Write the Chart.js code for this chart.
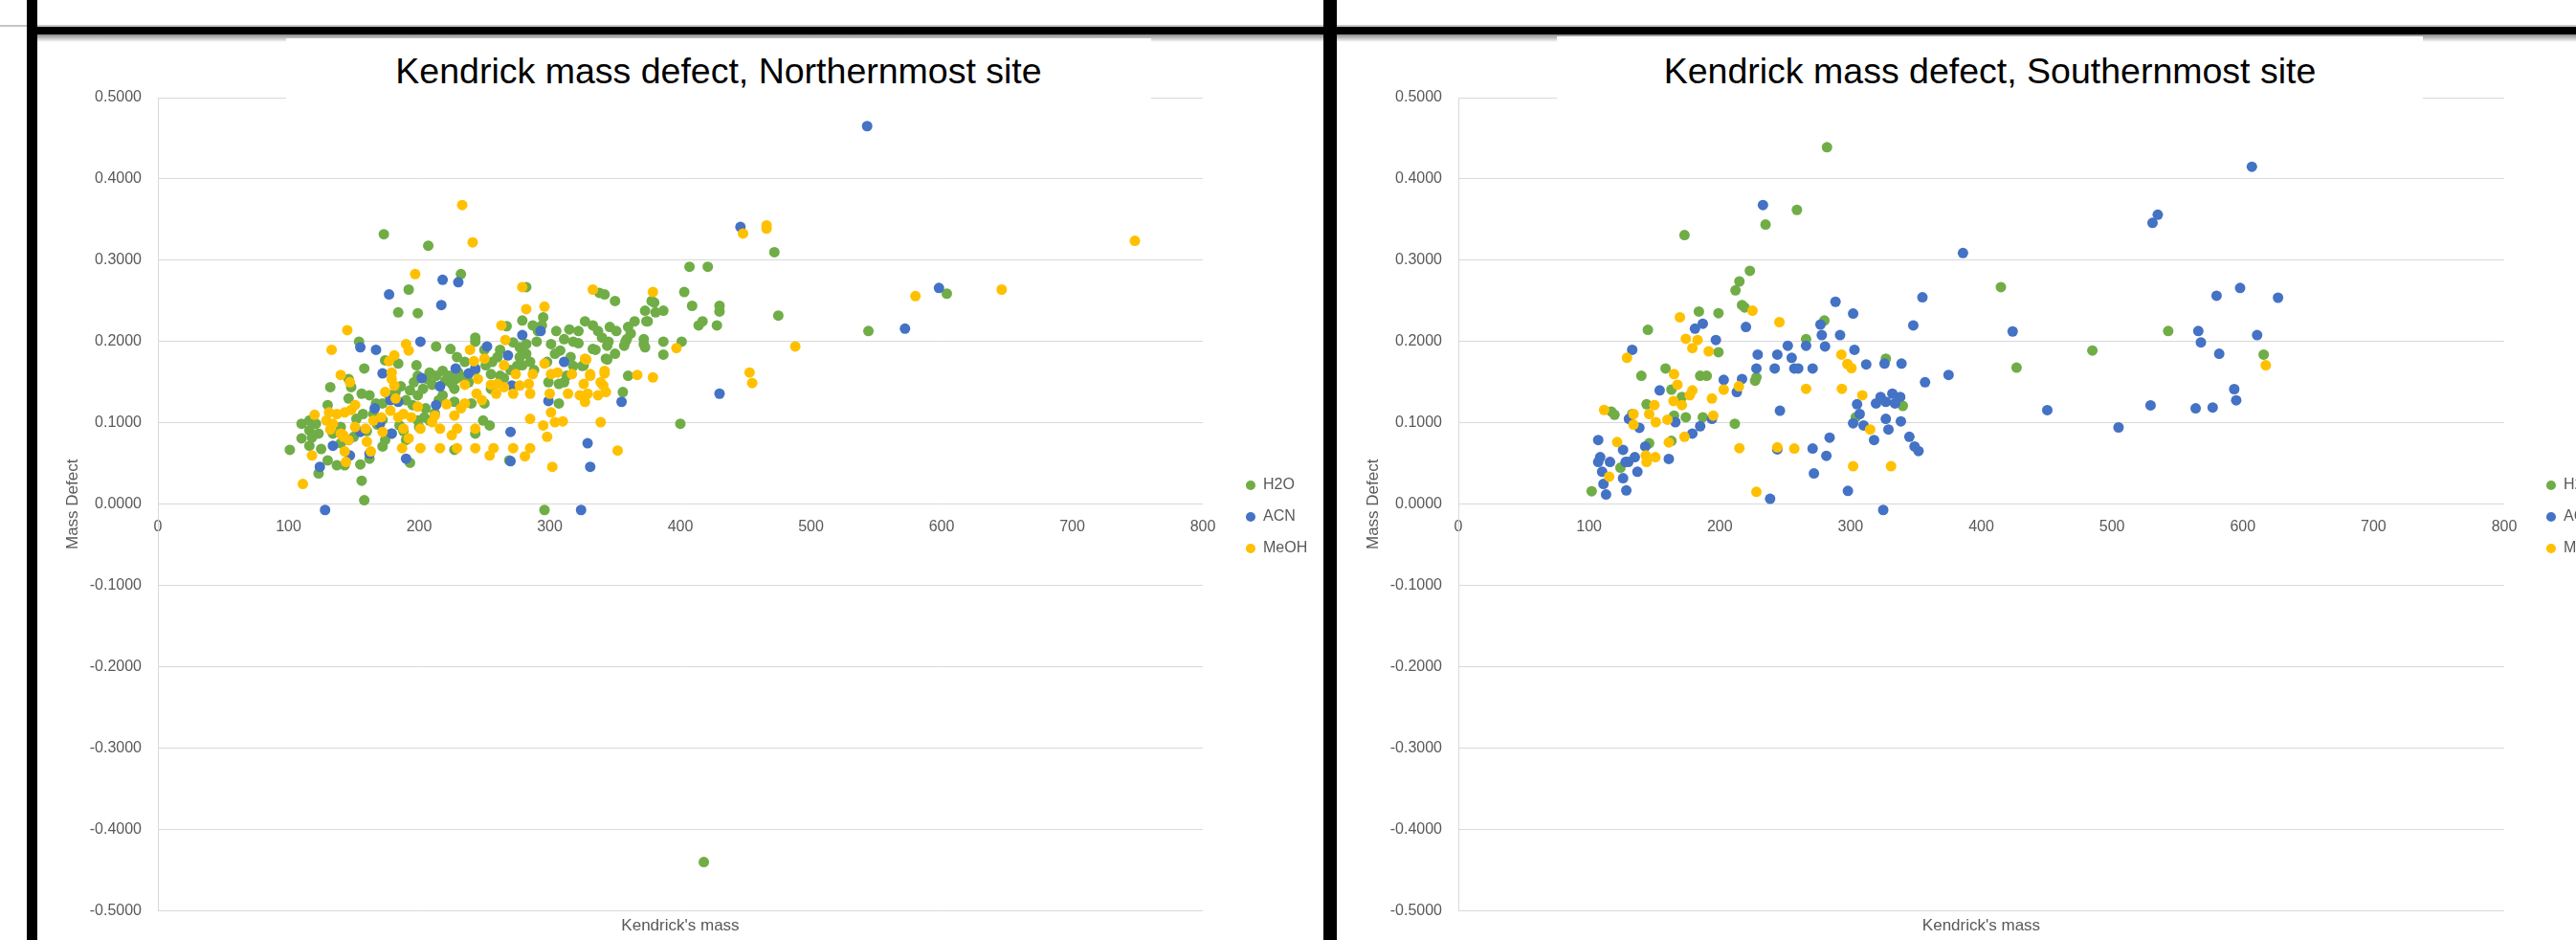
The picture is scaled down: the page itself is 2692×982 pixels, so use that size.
<!DOCTYPE html>
<html lang="en">
<head>
<meta charset="UTF-8">
<title>Kendrick mass defect</title>
<script src="https://cdn.jsdelivr.net/npm/chart.js"></script>
<style>
  body { margin: 0; width: 2692px; height: 982px; overflow: hidden; background: #fff; position: relative; font-family: 'Liberation Sans', Arial, sans-serif; }
  .abs { position: absolute; }
  canvas { position: absolute; top: 36px; }
  #north { left: 40px; }
  #south { left: 1397px; }
  .topline { left: 0; top: 26px; width: 2692px; height: 2px; background: #c6c6c6; }
  .band { left: 28px; top: 28px; width: 2664px; height: 8px; background: #000; }
  .shadow { top: 36px; height: 8px; background: linear-gradient(#8a8a8a, #fff); }
  .bar { top: 0; height: 982px; background: #000; }
  .title { height: 63px; background: #fff; color: #000; font-size: 37.5px; text-align: center; line-height: 68px; white-space: nowrap; }
</style>
</head>
<body>
<canvas id="north" width="1342" height="946"></canvas>
<canvas id="south" width="1342" height="946"></canvas>

<div class="abs topline"></div>
<div class="abs shadow" style="left:39px;width:1344px"></div>
<div class="abs shadow" style="left:1397px;width:1295px"></div>
<div class="abs title" style="left:299px;top:40px;width:904px">Kendrick mass defect, Northernmost site</div>
<div class="abs title" style="left:1627px;top:38px;width:905px;height:65px;line-height:72px">Kendrick mass defect, Southernmost site</div>
<div class="abs band"></div>
<div class="abs bar" style="left:28px;width:11px"></div>
<div class="abs bar" style="left:1383px;width:14px"></div>

<script>
    const seriesNames = ['H2O', 'ACN', 'MeOH'];
    const seriesColors = ['#70AD47', '#4472C4', '#FFC000'];
    const massTicks = { min: 0, max: 800, step: 100 };
    const defectTicks = { min: -0.5, max: 0.5, step: 0.1 };

    // Northernmost site: [Kendrick's mass, mass defect]
    const northH2O = [
        [173,0.332],[207,0.318],[232,0.283],[192,0.264],[184,0.236],[199,0.235],[282,0.267],
        [338,0.26],[342,0.258],[350,0.25],[378,0.25],[373,0.238],[381,0.236],[387,0.238],[374,0.225],
        [407,0.292],[421,0.292],[403,0.261],[409,0.244],[430,0.244],[430,0.237],[417,0.225],[414,0.22],[428,0.22],
        [360,0.218],[346,0.218],[351,0.213],[327,0.225],[333,0.22],[337,0.213],[315,0.215],[322,0.213],
        [295,0.23],[294,0.22],[279,0.226],[287,0.22],[291,0.213],[267,0.219],
        [345,0.2],[358,0.2],[372,0.203],[387,0.2],[401,0.2],[344,0.195],[357,0.195],[372,0.197],[373,0.193],[387,0.184],
        [343,0.179],[360,0.158],[356,0.138],[400,0.099],[333,0.191],[326,0.171],
        [311,0.203],[318,0.2],[308,0.189],[316,0.181],[301,0.197],[304,0.185],[298,0.175],
        [243,0.205],[243,0.2],[224,0.191],[213,0.194],[229,0.181],[235,0.175],
        [272,0.199],[277,0.193],[282,0.197],[282,0.185],[277,0.181],[279,0.171],
        [260,0.181],[255,0.16],[262,0.158],[251,0.171],[243,0.165],
        [208,0.162],[213,0.158],[218,0.164],[223,0.158],[228,0.154],[230,0.162],[206,0.154],
        [199,0.158],[196,0.15],[193,0.14],[199,0.134],[174,0.177],[184,0.173],[198,0.171],
        [218,0.134],[227,0.142],[227,0.126],[240,0.124],[250,0.124],
        [299,0.15],[307,0.148],[311,0.15],[307,0.124],
        [249,0.103],[254,0.097],[227,0.067],[243,0.087],[269,0.054],[296,-0.007],
        [158,0.167],[154,0.2],[132,0.144],[130,0.122],[146,0.154],[148,0.144],[146,0.13],
        [156,0.136],[162,0.134],[167,0.124],[157,0.111],[165,0.111],[172,0.124],[177,0.134],[182,0.138],
        [110,0.099],[116,0.103],[121,0.099],[116,0.091],[123,0.087],[110,0.081],[116,0.072],[101,0.067],
        [130,0.054],[137,0.048],[143,0.048],[123,0.038],[155,0.049],[162,0.056],
        [172,0.071],[174,0.079],[179,0.087],[190,0.079],[156,0.029],[158,0.005],[193,0.051],
        [199,0.103],[204,0.107],[208,0.103],[134,0.087],[140,0.095],
        [220,0.152],[225,0.148],[233,0.156],[238,0.15],[210,0.147],[203,0.142],[215,0.128],[190,0.128],
        [186,0.145],[195,0.122],[205,0.118],[212,0.112],[200,0.095],[168,0.098],[172,0.104],[185,0.097],
        [160,0.09],[150,0.083],[152,0.105],[140,0.075],[125,0.068],[118,0.082],[188,0.09],
        [255,0.142],[265,0.155],[270,0.165],[285,0.175],[290,0.2],[288,0.165],[275,0.17],[262,0.19],[250,0.19],[256,0.175],
        [322,0.198],[340,0.205],[350,0.185],[318,0.17],[313,0.158],[362,0.21],[365,0.225],[305,0.213],
        [380,0.248],[375,0.225],[359,0.203],[335,0.19],[344,0.178],[325,0.17],
        [475,0.232],[472,0.31],[544,0.213],[604,0.259],[418,-0.44]
    ];
    const northACN = [
        [177,0.258],[218,0.276],[230,0.273],[217,0.245],[155,0.193],[167,0.19],[201,0.2],[172,0.161],
        [202,0.155],[216,0.145],[228,0.167],[238,0.161],[243,0.167],[252,0.194],[268,0.183],[279,0.208],
        [293,0.213],[311,0.175],[271,0.146],[299,0.127],[355,0.126],[430,0.136],[213,0.122],[178,0.128],
        [184,0.126],[166,0.118],[170,0.099],[179,0.087],[146,0.079],[134,0.072],[147,0.06],[162,0.062],
        [124,0.046],[190,0.056],[270,0.089],[270,0.053],[329,0.075],[331,0.046],[128,-0.007],[324,-0.007],
        [155,0.089],[543,0.465],[446,0.341],[572,0.216],[598,0.266]
    ];
    const northMeOH = [
        [233,0.368],[241,0.322],[197,0.283],[279,0.267],[333,0.264],[379,0.261],[282,0.24],[296,0.243],
        [263,0.22],[266,0.202],[145,0.214],[133,0.19],[190,0.197],[192,0.189],[181,0.183],[177,0.176],
        [179,0.162],[179,0.154],[181,0.146],[174,0.138],[182,0.13],[140,0.159],[147,0.15],[239,0.19],
        [242,0.176],[250,0.179],[245,0.154],[244,0.136],[248,0.128],[235,0.147],[265,0.171],[274,0.16],
        [255,0.147],[260,0.148],[265,0.144],[259,0.136],[272,0.136],[277,0.146],[284,0.148],[287,0.16],[285,0.136],
        [296,0.173],[301,0.16],[306,0.162],[317,0.16],[327,0.179],[331,0.16],[326,0.148],[323,0.134],[329,0.136],[327,0.126],
        [342,0.164],[339,0.15],[343,0.138],[337,0.134],[300,0.136],[314,0.136],[367,0.159],[379,0.156],[397,0.192],
        [120,0.11],[131,0.113],[137,0.111],[143,0.113],[148,0.116],[151,0.122],
        [129,0.103],[134,0.099],[132,0.092],[140,0.087],[142,0.083],[146,0.079],[151,0.095],[159,0.093],
        [160,0.077],[165,0.103],[163,0.065],[171,0.107],[172,0.089],[178,0.115],[184,0.107],[188,0.111],
        [194,0.107],[188,0.093],[192,0.081],[187,0.069],[199,0.12],[201,0.093],[201,0.069],[212,0.109],
        [210,0.101],[216,0.093],[216,0.069],[221,0.123],[227,0.109],[225,0.085],[229,0.093],[229,0.069],
        [232,0.118],[235,0.124],[243,0.093],[243,0.069],[254,0.06],[257,0.069],[272,0.069],[281,0.059],
        [285,0.069],[285,0.105],[295,0.097],[298,0.083],[301,0.113],[304,0.101],[310,0.102],[302,0.046],
        [339,0.101],[352,0.066],[118,0.06],[143,0.065],[144,0.052],[142,0.085],[111,0.025],
        [448,0.333],[466,0.343],[466,0.339],[488,0.194],[453,0.162],[455,0.149],[580,0.256],[646,0.264],[748,0.324],
        [328,0.178],[331,0.158],[342,0.161],[341,0.146]
    ];

    // Southernmost site
    const southH2O = [
        [173,0.331],[223,0.287],[215,0.274],[212,0.263],[217,0.245],[219,0.242],[184,0.237],[199,0.235],
        [145,0.2145],[199,0.187],[158.5,0.167],[140,0.158],[185,0.158],[190,0.158],[227,0.152],[228,0.156],
        [163,0.141],[171,0.132],[144,0.123],[117,0.114],[119.5,0.11],[133,0.111],[165,0.109],[174,0.107],
        [187,0.107],[211.5,0.099],[146,0.075],[163,0.078],[124,0.045],[102,0.016],[266,0.203],[280,0.226],
        [327,0.179],[340,0.121],[304,0.107],[415,0.267],[427,0.168],[282,0.439],[259,0.362],[235,0.344],
        [485,0.189],[543,0.213],[616,0.184]
    ];
    const southACN = [
        [386,0.309],[355,0.2545],[348,0.22],[424,0.2125],[375,0.159],[357,0.15],[288.5,0.249],[302,0.2345],
        [277,0.221],[278,0.208],[292,0.208],[252,0.195],[266,0.195],[280.5,0.194],[255,0.18],[229,0.184],
        [244,0.184],[228,0.167],[242,0.167],[257,0.167],[260,0.167],[271,0.167],[303,0.19],[312,0.172],
        [326,0.173],[339,0.173],[203,0.153],[217,0.154],[213,0.138],[197,0.202],[181,0.216],[187,0.222],
        [220,0.218],[133,0.19],[154,0.14],[166,0.101],[130.5,0.105],[138.5,0.094],[185,0.096],[179,0.087],
        [194,0.105],[246,0.115],[305,0.123],[319.5,0.124],[323,0.132],[332,0.136],[338,0.132],[327,0.126],
        [334,0.124],[307,0.111],[302,0.0996],[310,0.097],[327,0.105],[338.5,0.102],[329,0.092],[318,0.079],
        [345,0.083],[349,0.071],[352,0.0655],[284,0.082],[271,0.0686],[281.5,0.0596],[272,0.038],[298,0.0165],
        [244,0.0675],[238.5,0.0067],[325,-0.007],[161,0.0557],[143,0.071],[135,0.058],[130,0.052],[128,0.052],
        [126,0.067],[107,0.079],[108.5,0.058],[107,0.052],[116,0.052],[110,0.04],[137,0.04],[126,0.032],
        [111,0.025],[128.5,0.017],[113,0.012],[233,0.368],
        [607,0.415],[535,0.356],[531,0.346],[580,0.2565],[598,0.266],[627,0.254],[566,0.213],[568,0.199],
        [611,0.208],[582,0.185],[593.5,0.1416],[595,0.1278],[450.5,0.1158],[529.5,0.1217],[564,0.118],
        [577,0.119],[505,0.0945]
    ];
    const southMeOH = [
        [169.5,0.23],[225,0.238],[245.6,0.224],[129,0.18],[174,0.2035],[183,0.202],[179,0.192],[191.5,0.188],
        [165,0.16],[167.6,0.147],[179,0.14],[177,0.134],[164.6,0.127],[171,0.122],[194,0.13],[203,0.141],
        [214.6,0.145],[150,0.122],[146,0.111],[151,0.101],[134,0.111],[134,0.098],[160,0.104],[195,0.109],
        [111.5,0.116],[121.5,0.0765],[161,0.076],[173,0.083],[143.4,0.06],[144,0.052],[150.7,0.058],[115.4,0.034],
        [215,0.069],[244,0.07],[257,0.0686],[266,0.142],[293,0.184],[297.6,0.1725],[300.7,0.1675],[293.4,0.142],
        [309,0.134],[315,0.092],[302,0.0467],[331,0.0467],[228,0.0153],[617.6,0.171]
    ];

    Chart.defaults.font.family = "'Liberation Sans', Arial, sans-serif";
    const grey = '#595959';

    function buildChart(id, series, padLeft, padRight, legendGap) {
        return new Chart(document.getElementById(id), {
            type: 'scatter',
            data: {
                datasets: series.map((pts, i) => ({
                    label: seriesNames[i],
                    data: pts.map(p => ({ x: p[0], y: p[1] })),
                    backgroundColor: seriesColors[i],
                    borderColor: seriesColors[i],
                    borderWidth: 0,
                    pointRadius: 5.5,
                    pointHoverRadius: 5.5,
                    order: 3 - i // MeOH drawn on top, like Excel
                }))
            },
            options: {
                responsive: false,
                animation: false,
                layout: { padding: { left: padLeft, right: padRight, top: 66, bottom: 4 } },
                plugins: {
                    tooltip: { enabled: false },
                    legend: {
                        position: 'right',
                        align: 'center',
                        labels: {
                            usePointStyle: true,
                            pointStyle: 'circle',
                            pointStyleWidth: 10,
                            boxHeight: 7,
                            padding: 17,
                            color: grey,
                            font: { size: 16 },
                            sort: (a, b) => a.datasetIndex - b.datasetIndex
                        }
                    }
                },
                scales: {
                    x: {
                        type: 'linear',
                        position: { y: 0 },
                        min: massTicks.min,
                        max: massTicks.max,
                        ticks: { stepSize: massTicks.step, padding: 14, color: grey, font: { size: 16 } },
                        grid: { display: false, drawTicks: false },
                        border: { display: false }
                    },
                    xTitle: {
                        type: 'linear',
                        axis: 'x',
                        position: 'bottom',
                        min: massTicks.min,
                        max: massTicks.max,
                        ticks: { display: false },
                        grid: { display: false, drawTicks: false },
                        border: { display: false },
                        title: { display: true, text: "Kendrick's mass", color: grey, font: { size: 17 }, padding: { top: 6, bottom: 0 } }
                    },
                    y: {
                        type: 'linear',
                        position: 'left',
                        min: defectTicks.min,
                        max: defectTicks.max,
                        ticks: {
                            stepSize: defectTicks.step,
                            padding: 17,
                            color: grey,
                            font: { size: 16 },
                            callback: v => (Math.abs(v) < 1e-9 ? 0 : v).toFixed(4)
                        },
                        grid: { color: '#d9d9d9', lineWidth: 1, drawTicks: false },
                        border: { display: true, color: '#d9d9d9' },
                        title: { display: true, text: 'Mass Defect', color: grey, font: { size: 17 }, padding: { top: 6, bottom: 0 } },
                        afterFit: s => { s.width = 105; }
                    },
                    // empty spacer between plot and legend
                    ySpacer: {
                        type: 'linear',
                        axis: 'y',
                        position: 'right',
                        ticks: { display: false },
                        grid: { display: false, drawTicks: false },
                        border: { display: false },
                        afterFit: s => { s.width = legendGap; }
                    }
                }
            }
        });
    }

    buildChart('north', [northH2O, northACN, northMeOH], 20, 5.8, 28);
    buildChart('south', [southH2O, southACN, southMeOH], 22, 3.8, 27);
</script>
</body>
</html>
